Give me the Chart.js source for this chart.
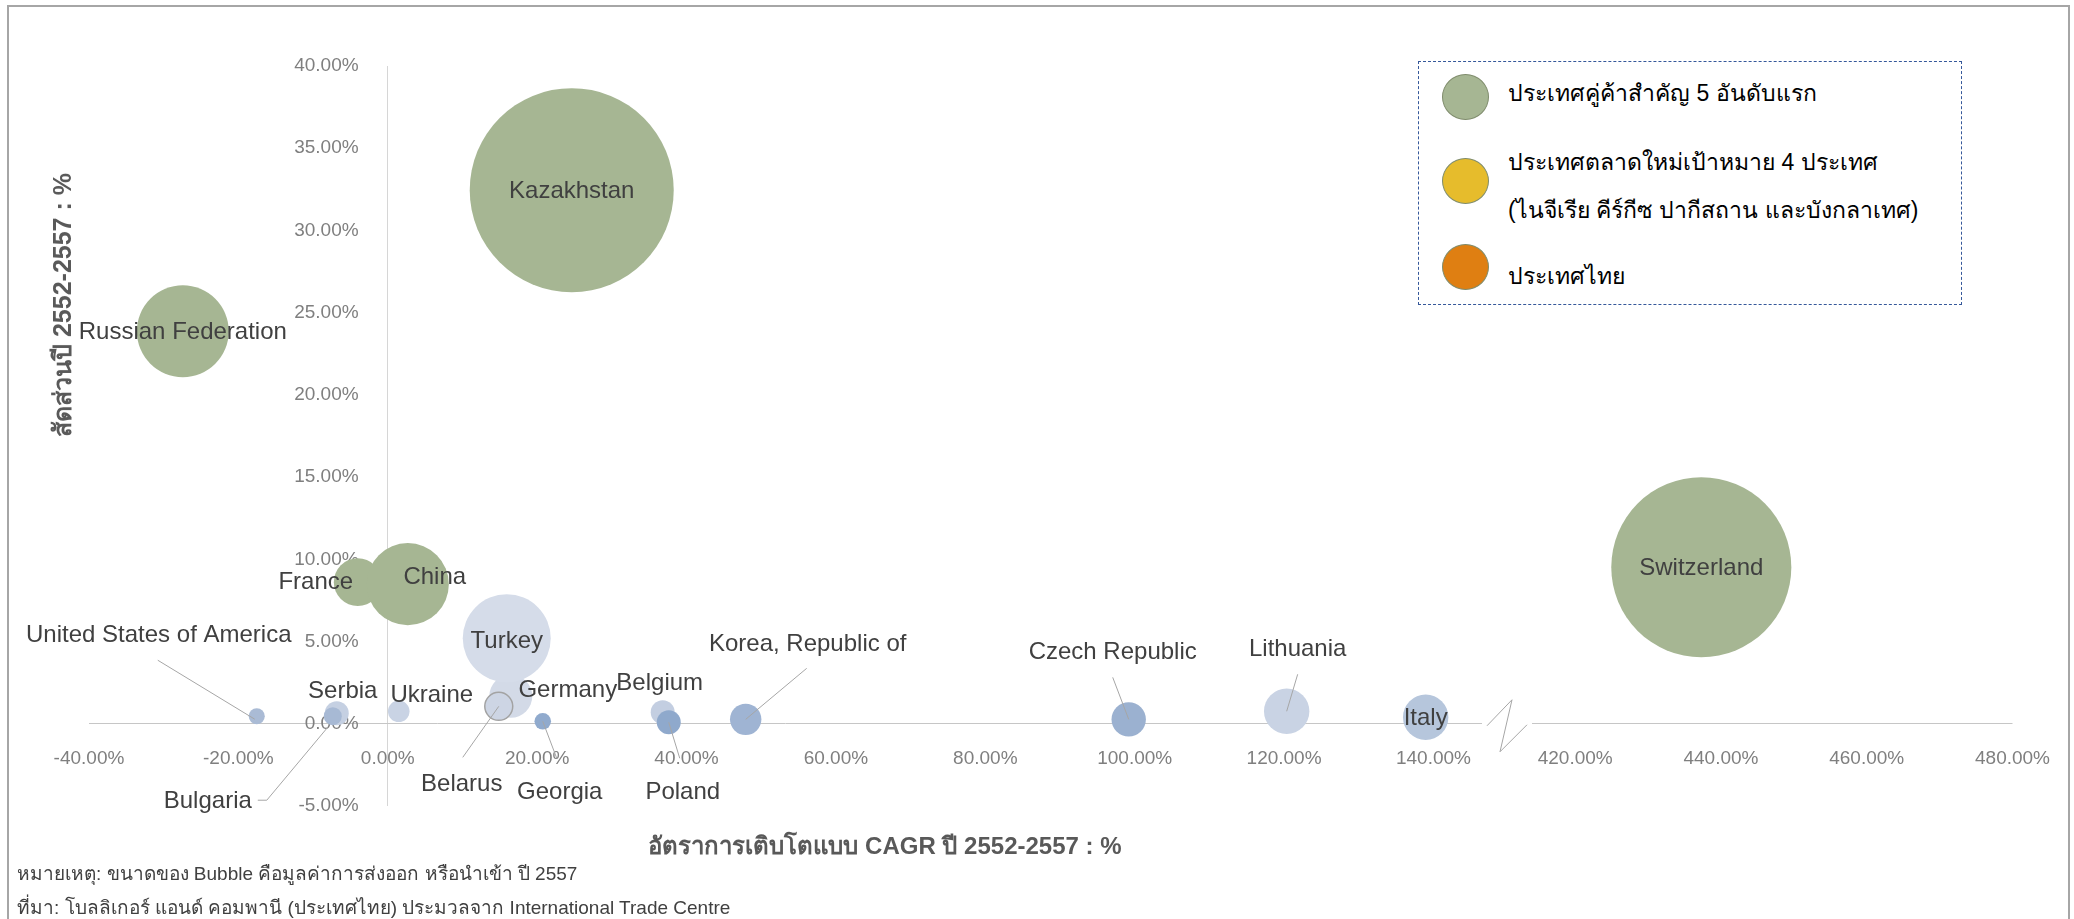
<!DOCTYPE html>
<html>
<head>
<meta charset="utf-8">
<script src="https://cdn.jsdelivr.net/npm/chart.js@4.4.0/dist/chart.umd.min.js"></script>
<style>
  html, body { margin: 0; padding: 0; background: #fff; width: 2074px; height: 919px; overflow: hidden;
    font-family: "Liberation Sans", Arial, "Noto Sans", sans-serif; }
  canvas { position: absolute; left: 0; top: 0; }
  .frame { position: absolute; left: 7px; top: 5px; width: 2063px; height: 1000px; border: 2px solid #a6a6a6; box-sizing: border-box; }
  .legend { position: absolute; left: 1418px; top: 61px; width: 544px; height: 244px; border: 1px dashed #35589a; box-sizing: border-box; background: #fff; }
  .legend .dot { position: absolute; left: 23px; width: 47px; height: 46px; border-radius: 50%; border: 1.5px solid #7f8c6c; box-sizing: border-box; }
  .legend .txt { position: absolute; left: 89px; font-size: 23px; line-height: 48px; color: #000; white-space: nowrap; }
  .xtitle { position: absolute; left: 885px; top: 845px; transform: translate(-50%, -50%); font-size: 24px; font-weight: bold; color: #595959; white-space: nowrap; }
  .ytitle { position: absolute; left: 62px; top: 305px; transform: translate(-50%, -50%) rotate(-90deg); font-size: 25px; font-weight: bold; color: #595959; white-space: nowrap; }
  .note { position: absolute; left: 17px; font-size: 19px; color: #404040; white-space: nowrap; transform: translateY(-50%); }
</style>
</head>
<body>
<div class="frame"></div>
<canvas id="left" width="2074" height="919"></canvas>
<canvas id="right" width="2074" height="919"></canvas>

<div class="legend">
  <div class="dot" style="top:12px;background:#a6b693"></div>
  <div class="txt" style="top:7px">ประเทศคู่ค้าสำคัญ 5 อันดับแรก</div>
  <div class="dot" style="top:96px;background:#e6bc2c"></div>
  <div class="txt" style="top:76px">ประเทศตลาดใหม่เป้าหมาย 4 ประเทศ<br>(ไนจีเรีย คีร์กีซ ปากีสถาน และบังกลาเทศ)</div>
  <div class="dot" style="top:182px;background:#df7f12"></div>
  <div class="txt" style="top:190px">ประเทศไทย</div>
</div>

<div class="ytitle">สัดส่วนปี 2552-2557 : %</div>
<div class="xtitle">อัตราการเติบโตแบบ CAGR ปี 2552-2557 : %</div>
<div class="note" style="top:873px">หมายเหตุ: ขนาดของ Bubble คือมูลค่าการส่งออก หรือนำเข้า ปี 2557</div>
<div class="note" style="top:907px">ที่มา: โบลลิเกอร์ แอนด์ คอมพานี (ประเทศไทย) ประมวลจาก International Trade Centre</div>

<script>
// data
const countries = ['Kazakhstan', 'Russian Federation', 'France', 'China', 'Switzerland',
  'United States of America', 'Serbia', 'Bulgaria', 'Ukraine', 'Germany', 'Turkey', 'Belarus',
  'Georgia', 'Belgium', 'Poland', 'Korea, Republic of', 'Czech Republic', 'Lithuania', 'Italy'];
const cagr = [24.63, -27.44, -4.02, 2.68, 437.3,
  -17.54, -6.83, -7.36, 1.47, 16.47, 15.93, 14.86,
  20.75, 36.81, 37.62, 47.92, 99.2, 120.35, 138.96];
const share = [32.45, 23.87, 8.61, 8.49, 9.52,
  0.46, 0.64, 0.46, 0.76, 1.67, 5.2, 1.06,
  0.15, 0.70, 0.09, 0.27, 0.27, 0.76, 0.40];
// bubble size: export / import value 2557 (relative)
const tradeValue = [100, 20.3, 5.5, 16.2, 77.9,
  0.62, 1.38, 0.78, 1.12, 4.44, 18.6, 1.88,
  0.66, 1.38, 1.38, 2.37, 2.84, 4.95, 4.95];
const group = ['top5', 'top5', 'top5', 'top5', 'top5',
  'other', 'other', 'other', 'other', 'other', 'other', 'other',
  'other', 'other', 'other', 'other', 'other', 'other', 'other'];

const xTicksLeft = [-40, -20, 0, 20, 40, 60, 80, 100, 120, 140];
const xTicksRight = [420, 440, 460, 480];
const yTicks = [-5, 0, 5, 10, 15, 20, 25, 30, 35, 40];

// styles
const GREEN = '#a6b693';
const shade = {
  'United States of America': '#aabbd5', 'Serbia': '#c5d0e2', 'Bulgaria': '#a7b9d4',
  'Ukraine': '#c9d3e4', 'Germany': '#d3dae7', 'Turkey': '#d5dce9', 'Belarus': '#cdd5e4',
  'Georgia': '#90aacd', 'Belgium': '#c3cee1', 'Poland': '#8fa9cc', 'Korea, Republic of': '#9fb4d3',
  'Czech Republic': '#9bb1d0', 'Lithuania': '#c9d3e4', 'Italy': '#b6c6dc'
};
// label offsets from bubble centre, and leader lines
const labelOffset = {
  'Kazakhstan': [0, 1], 'Russian Federation': [0, 1], 'France': [-42, 0], 'China': [27, -7],
  'Switzerland': [0, 1], 'United States of America': [-98, -81], 'Serbia': [6, -22],
  'Bulgaria': [-125, 85], 'Ukraine': [33, -16], 'Germany': [57, -6], 'Turkey': [0, 3],
  'Belarus': [-37, 78], 'Georgia': [17, 71], 'Belgium': [-3, -29], 'Poland': [14, 70],
  'Korea, Republic of': [62, -75], 'Czech Republic': [-16, -67], 'Lithuania': [11, -62], 'Italy': [0, 1]
};
const leaders = {
  'United States of America': [[-99, -56], [-2, 3]],
  'Bulgaria': [[-75, 84], [-66, 84], [-5, 11]],
  'Belarus': [[-36, 51], [0, 0]],
  'Georgia': [[14, 37], [0, 0]],
  'Poland': [[11, 36], [0, 0]],
  'Korea, Republic of': [[61, -51], [0, 0]],
  'Czech Republic': [[-16, -42], [0, 0]],
  'Lithuania': [[11, -37], [0, 0]]
};

const FONT = '"Liberation Sans", Arial, sans-serif';
const R_MAX = 102;
const vMax = Math.max(...tradeValue);

function buildDataset(test) {
  const idx = countries.map((c, i) => i).filter(i => test(cagr[i]));
  return {
    data: idx.map(i => ({ x: cagr[i], y: share[i], r: R_MAX * Math.sqrt(tradeValue[i] / vMax) })),
    idx: idx,
    backgroundColor: idx.map(i => group[i] === 'top5' ? GREEN : shade[countries[i]]),
    borderColor: idx.map(i => countries[i] === 'Belarus' ? '#a3a3a3' : 'rgba(0,0,0,0)'),
    borderWidth: idx.map(i => countries[i] === 'Belarus' ? 1.5 : 0),
    clip: false
  };
}

const labelPlugin = {
  id: 'bubbleLabels',
  afterDatasetsDraw(chart) {
    const ctx = chart.ctx;
    ctx.save();
    chart.data.datasets.forEach((ds, di) => {
      chart.getDatasetMeta(di).data.forEach((pt, k) => {
        const name = countries[ds.idx[k]];
        const lead = leaders[name];
        if (lead) {
          ctx.beginPath();
          ctx.strokeStyle = '#a6a6a6';
          ctx.lineWidth = 1;
          lead.forEach((p, j) => {
            if (j === 0) ctx.moveTo(pt.x + p[0], pt.y + p[1]);
            else ctx.lineTo(pt.x + p[0], pt.y + p[1]);
          });
          ctx.stroke();
        }
        const off = labelOffset[name] || [0, 0];
        ctx.font = '24px ' + FONT;
        ctx.fillStyle = '#404040';
        ctx.textAlign = 'center';
        ctx.textBaseline = 'middle';
        ctx.fillText(name, pt.x + off[0], pt.y + off[1]);
      });
    });
    ctx.restore();
  }
};

const breakPlugin = {
  id: 'axisBreak',
  afterDraw(chart) {
    const ctx = chart.ctx;
    const x0 = chart.chartArea.left;
    const y0 = chart.scales.y.getPixelForValue(0);
    const pts = [[-45, 2], [-20, -24], [-32, 28], [-5, 1]];
    ctx.save();
    ctx.beginPath();
    ctx.strokeStyle = '#a6a6a6';
    ctx.lineWidth = 1;
    pts.forEach((p, j) => j ? ctx.lineTo(x0 + p[0], y0 + p[1]) : ctx.moveTo(x0 + p[0], y0 + p[1]));
    ctx.stroke();
    ctx.restore();
  }
};

const tickFont = { family: FONT, size: 19 };
const pct = v => Number(v).toFixed(2) + '%';
const none = 'rgba(0,0,0,0)';

var leftChart = new Chart(document.getElementById('left'), {
  type: 'bubble',
  data: { datasets: [buildDataset(v => v < 200)] },
  options: {
    responsive: false,
    animation: false,
    devicePixelRatio: 1,
    layout: { autoPadding: false, padding: { left: 89, right: 592, top: 66, bottom: 113 } },
    plugins: { legend: { display: false }, tooltip: { enabled: false } },
    scales: {
      x: {
        type: 'linear', min: -40, max: 146.5,
        position: { y: 0 },
        afterBuildTicks: s => { s.ticks = xTicksLeft.map(v => ({ value: v })); },
        afterFit: s => { s.height = 0; },
        border: { display: false },
        grid: { drawTicks: false, lineWidth: 1, color: c => (c.tick && c.tick.value === 0) ? '#d6d6d6' : none },
        ticks: { padding: 24, color: '#7f7f7f', font: tickFont, autoSkip: false, maxRotation: 0, callback: pct }
      },
      y: {
        type: 'linear', min: -5, max: 40,
        position: { x: -3.9 },
        afterBuildTicks: s => { s.ticks = yTicks.map(v => ({ value: v })); },
        afterFit: s => { s.width = 0; },
        border: { display: false },
        grid: { drawTicks: false, lineWidth: 1, color: c => (c.tick && c.tick.value === 0) ? '#c6c6c6' : none },
        ticks: { padding: 0, color: '#7f7f7f', font: tickFont, callback: pct }
      }
    }
  },
  plugins: [labelPlugin]
});

var rightChart = new Chart(document.getElementById('right'), {
  type: 'bubble',
  data: { datasets: [buildDataset(v => v > 400)] },
  options: {
    responsive: false,
    animation: false,
    devicePixelRatio: 1,
    layout: { autoPadding: false, padding: { left: 1532, right: 42, top: 66, bottom: 113 } },
    plugins: { legend: { display: false }, tooltip: { enabled: false } },
    scales: {
      x: {
        type: 'linear', min: 414.07, max: 480,
        position: { y: 0 },
        afterBuildTicks: s => { s.ticks = xTicksRight.map(v => ({ value: v })); },
        afterFit: s => { s.height = 0; },
        border: { display: false },
        grid: { drawTicks: false, color: none },
        ticks: { padding: 24, color: '#7f7f7f', font: tickFont, autoSkip: false, maxRotation: 0, callback: pct }
      },
      y: {
        type: 'linear', min: -5, max: 40,
        position: 'left',
        afterBuildTicks: s => { s.ticks = yTicks.map(v => ({ value: v })); },
        afterFit: s => { s.width = 0; },
        border: { display: false },
        grid: { drawTicks: false, lineWidth: 1, color: c => (c.tick && c.tick.value === 0) ? '#c6c6c6' : none },
        ticks: { display: false }
      }
    }
  },
  plugins: [labelPlugin, breakPlugin]
});
</script>
</body>
</html>
